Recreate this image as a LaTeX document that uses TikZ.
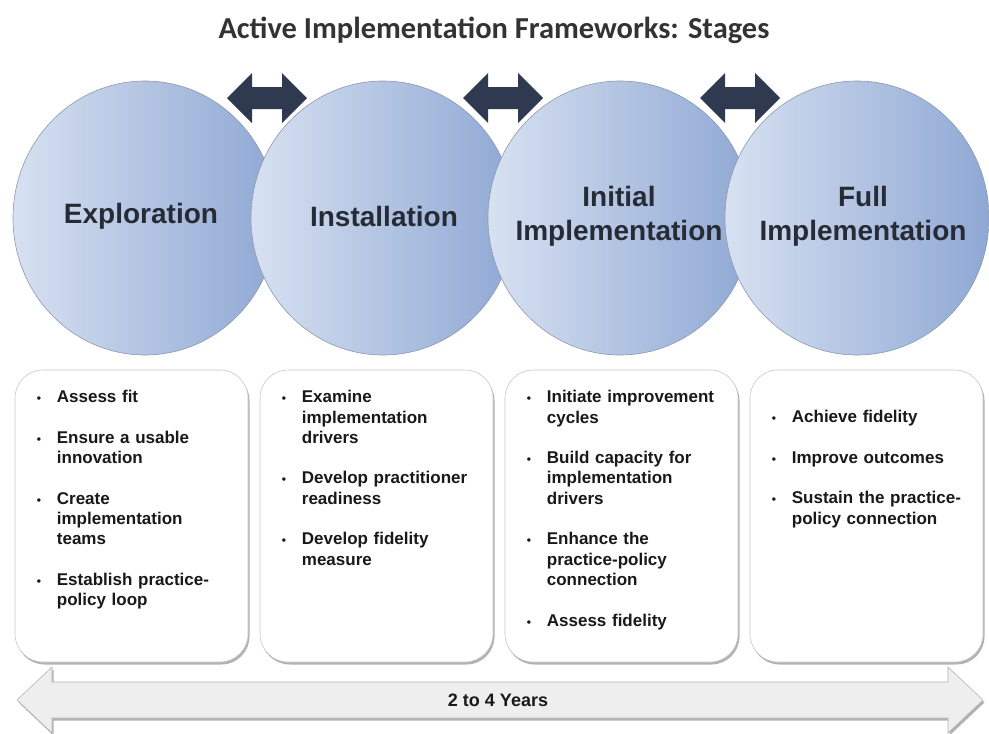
\documentclass[tikz,border=0pt]{standalone}
\usepackage{fontspec}
\setmainfont{Liberation Sans}
\newfontfamily\titlefont{Carlito}
\usetikzlibrary{shadows,shapes.geometric,calc}

\definecolor{circL}{HTML}{D7E1F1}
\definecolor{circR}{HTML}{8FA8D4}
\definecolor{circEdge}{HTML}{8C98AE}
\definecolor{navy}{HTML}{2F3A50}
\definecolor{txtDark}{HTML}{262B36}
\definecolor{boxEdge}{HTML}{C8C8C8}
\definecolor{barFill}{HTML}{EEEEEE}
\definecolor{barEdge}{HTML}{B5B5B5}
\definecolor{titleCol}{HTML}{333333}

\newcommand{\nl}{\hfil\break}
\newcommand{\bitem}[1]{\hangindent=21pt\hangafter=1\noindent\makebox[21pt][l]{\hspace*{1pt}\fontsize{12}{12}\selectfont •}#1\par}
\newcommand{\lsetup}{\setlength{\parskip}{20.3pt}}

\tikzset{
  stage/.style={ellipse, minimum width=264pt, minimum height=274pt, inner sep=0pt,
    draw=circEdge, line width=0.6pt, left color=circL, right color=circR},
  stagetext/.style={inner sep=0pt, font=\fontsize{28}{34}\selectfont\bfseries, text=txtDark, align=center},
  databox/.style={rectangle, rounded corners=28pt, minimum width=233pt, minimum height=292pt,
    draw=boxEdge, fill=white, line width=0.6pt,
    drop shadow={shadow xshift=1.5pt, shadow yshift=-2.5pt, fill=black!50, opacity=0.6}},
  listtext/.style={anchor=base west, text width=205pt, inner sep=0pt,
    font=\fontsize{17}{20.3}\selectfont\bfseries, text=black!90},
  dblarrow/.style={fill=navy, draw=none},
  bar/.style={fill=barFill, draw=barEdge, line width=0.6pt,
    drop shadow={shadow xshift=1.5pt, shadow yshift=-2.5pt, fill=black!50, opacity=0.6}},
}

\begin{document}
\begin{tikzpicture}[x=1pt,y=-1pt]
\useasboundingbox (0,0) rectangle (989,734);
\fill[white] (0,0) rectangle (989,734);

% title
\node[font=\titlefont\fontsize{30.5}{36}\selectfont\bfseries, text=titleCol] (title) at (494,30) {Active Implementation Frameworks: Stages};

% bottom timeline arrow
\coordinate (barc) at (500,700);
\draw[bar] ($(barc)+(-483,0)$) -- ++(35,-33) -- ++(0,15) -- ($(barc)+(448,-18)$) -- ++(0,-15) -- ($(barc)+(483,0)$)
  -- ($(barc)+(448,33)$) -- ++(0,-15) -- ($(barc)+(-448,18)$) -- ++(0,15) -- cycle;
\node[font=\fontsize{18}{22}\selectfont\bfseries, text=black!90] (years) at (498,700) {2 to 4 Years};

% boxes
\node[databox] (b1) at (131.5,516) {};
\node[databox] (b2) at (376.5,516) {};
\node[databox] (b3) at (621.5,516) {};
\node[databox] (b4) at (866.5,516) {};

\node[listtext] (t1) at ($(b1.north west)+(21,33)$) {\lsetup
\bitem{Assess fit}
\bitem{Ensure a usable\nl innovation}
\bitem{Create\nl implementation\nl teams}
\bitem{Establish practice-\nl policy loop}};

\node[listtext] (t2) at ($(b2.north west)+(21,33)$) {\lsetup
\bitem{Examine\nl implementation\nl drivers}
\bitem{Develop practitioner\nl readiness}
\bitem{Develop fidelity\nl measure}};

\node[listtext] (t3) at ($(b3.north west)+(21,33)$) {\lsetup
\bitem{Initiate improvement\nl cycles}
\bitem{Build capacity for\nl implementation\nl drivers}
\bitem{Enhance the\nl practice-policy\nl connection}
\bitem{Assess fidelity}};

\node[listtext] (t4) at ($(b4.north west)+(21,53)$) {\lsetup
\bitem{Achieve fidelity}
\bitem{Improve outcomes}
\bitem{Sustain the practice-\nl policy connection}};

% double arrows between stages (behind circles)
\foreach \cx/\nm in {267/a1, 503/a2, 740/a3}{
  \coordinate (\nm) at (\cx,98);
  \fill[dblarrow] ($(\nm)+(-40,0)$) -- ++(25,-25) -- ++(0,14) -- ++(30,0) -- ++(0,-14) -- ++(25,25)
    -- ++(-25,25) -- ++(0,-14) -- ++(-30,0) -- ++(0,14) -- cycle;
}

% stage circles
\node[stage] (c1) at (145,218) {};
\node[stagetext] (l1) at (141,216) {Exploration};
\node[stage] (c2) at (383,218) {};
\node[stagetext] (l2) at (384,216) {Installation};
\node[stage] (c3) at (620,218) {};
\node[stagetext] (l3) at (619,216) {Initial\\Implementation};
\node[stage] (c4) at (857,218) {};
\node[stagetext] (l4) at (863,216) {Full\\Implementation};
\end{tikzpicture}
\end{document}
